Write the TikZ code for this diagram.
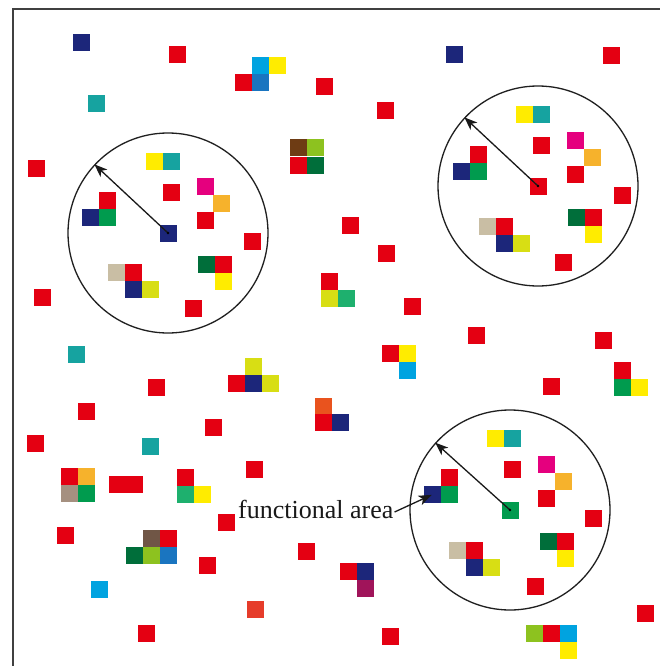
\documentclass[tikz,border=0pt]{standalone}
\usepackage{fontspec}
\setmainfont{Liberation Serif}
\usetikzlibrary{arrows.meta}
\definecolor{cR}{RGB}{228,0,18}
\definecolor{cN}{RGB}{28,38,122}
\definecolor{cT}{RGB}{22,163,160}
\definecolor{cLB}{RGB}{0,163,224}
\definecolor{cY}{RGB}{255,236,0}
\definecolor{cB}{RGB}{26,117,192}
\definecolor{cYG}{RGB}{216,222,20}
\definecolor{cG}{RGB}{0,155,78}
\definecolor{cDG}{RGB}{0,110,58}
\definecolor{cSG}{RGB}{30,176,110}
\definecolor{cM}{RGB}{229,0,126}
\definecolor{cO}{RGB}{246,178,44}
\definecolor{cBe}{RGB}{201,190,164}
\definecolor{cBr}{RGB}{110,60,20}
\definecolor{cBr2}{RGB}{112,86,70}
\definecolor{cL}{RGB}{141,194,31}
\definecolor{cTa}{RGB}{165,144,128}
\definecolor{cOR}{RGB}{233,83,30}
\definecolor{cOR2}{RGB}{230,60,42}
\definecolor{cMa}{RGB}{160,20,90}
\definecolor{cFrame}{RGB}{64,64,64}
\newcommand\sq[3]{\fill[#3] (#1,#2) rectangle ++(17,17);}
\begin{document}
\begin{tikzpicture}[x=1pt,y=-1pt,
  sqn/.style={rectangle,minimum size=17pt,inner sep=0pt,outer sep=0pt},
  area/.style={draw=black!88,circle,minimum size=200pt,inner sep=0pt,line width=1.3pt},
  arr/.style={draw=black!90,line width=1.3pt,-{Stealth[length=13pt,width=10pt,inset=3.5pt]}}]
\useasboundingbox (0,0) rectangle (660,666);
\fill[white] (0,0) rectangle (660,666);
% frame (top and left visible)
\draw[cFrame,line width=2pt] (12.7,666) -- (12.7,8.7) -- (660,8.7);
% free squares
\sq{73}{34}{cN}
\sq{169}{46}{cR}
\sq{252}{57}{cLB}\sq{269}{57}{cY}\sq{235}{74}{cR}\sq{252}{74}{cB}
\sq{316}{78}{cR}
\sq{88}{95}{cT}
\sq{28}{160}{cR}
% circle 1 contents
\sq{146}{153}{cY}\sq{163}{153}{cT}
\sq{163}{184}{cR}
\sq{197}{178}{cM}\sq{213}{195}{cO}\sq{197}{212}{cR}
\sq{99}{192}{cR}\sq{82}{209}{cN}\sq{99}{209}{cG}
\node[sqn,fill=cN] (k1) at (168,233) {};
\sq{244}{233}{cR}
\sq{198}{256}{cDG}\sq{215}{256}{cR}\sq{215}{273}{cY}
\sq{108}{264}{cBe}\sq{125}{264}{cR}\sq{125}{281}{cN}\sq{142}{281}{cYG}
\sq{185}{300}{cR}
\sq{34}{289}{cR}
\sq{290}{139}{cBr}\sq{307}{139}{cL}\sq{290}{157}{cR}\sq{307}{157}{cDG}
\sq{321}{273}{cR}\sq{321}{290}{cYG}\sq{338}{290}{cSG}
% upper right
\sq{446}{46}{cN}
\sq{603}{47}{cR}
\sq{377}{102}{cR}
% circle 2 contents
\sq{516}{106}{cY}\sq{533}{106}{cT}
\sq{533}{137}{cR}
\sq{567}{132}{cM}\sq{584}{149}{cO}\sq{567}{166}{cR}
\sq{470}{146}{cR}\sq{453}{163}{cN}\sq{470}{163}{cG}
\node[sqn,fill=cR] (k2) at (538,186) {};
\sq{614}{187}{cR}
\sq{568}{209}{cDG}\sq{585}{209}{cR}\sq{585}{226}{cY}
\sq{479}{218}{cBe}\sq{496}{218}{cR}\sq{496}{235}{cN}\sq{513}{235}{cYG}
\sq{555}{254}{cR}
\sq{342}{217}{cR}
\sq{378}{245}{cR}
\sq{404}{298}{cR}
\sq{468}{327}{cR}
\sq{595}{332}{cR}
% lower left
\sq{68}{346}{cT}
\sq{148}{379}{cR}
\sq{245}{358}{cYG}\sq{228}{375}{cR}\sq{245}{375}{cN}\sq{262}{375}{cYG}
\sq{315}{398}{cOR}\sq{315}{414}{cR}\sq{332}{414}{cN}
\sq{78}{403}{cR}
\sq{205}{419}{cR}
\sq{27}{435}{cR}
\sq{142}{438}{cT}
\sq{246}{461}{cR}
\sq{61}{468}{cR}\sq{78}{468}{cO}\sq{61}{485}{cTa}\sq{78}{485}{cG}
\sq{109}{476}{cR}\sq{126}{476}{cR}
\sq{177}{469}{cR}\sq{177}{486}{cSG}\sq{194}{486}{cY}
\sq{218}{514}{cR}
\sq{57}{527}{cR}
\sq{143}{530}{cBr2}\sq{160}{530}{cR}\sq{126}{547}{cDG}\sq{143}{547}{cL}\sq{160}{547}{cB}
\sq{298}{543}{cR}
\sq{199}{557}{cR}
\sq{91}{581}{cLB}
\sq{247}{601}{cOR2}
\sq{138}{625}{cR}
% lower right
\sq{382}{345}{cR}\sq{399}{345}{cY}\sq{399}{362}{cLB}
\sq{543}{378}{cR}
\sq{614}{362}{cR}\sq{614}{379}{cG}\sq{631}{379}{cY}
% circle 3 contents
\sq{487}{430}{cY}\sq{504}{430}{cT}
\sq{504}{461}{cR}
\sq{538}{456}{cM}\sq{555}{473}{cO}\sq{538}{490}{cR}
\sq{441}{469}{cR}\sq{441}{486}{cG}
\node[sqn,fill=cN] (n3) at (432.5,494.5) {};
\node[sqn,fill=cG] (k3) at (510,510) {};
\sq{585}{510}{cR}
\sq{540}{533}{cDG}\sq{557}{533}{cR}\sq{557}{550}{cY}
\sq{449}{542}{cBe}\sq{466}{542}{cR}\sq{466}{559}{cN}\sq{483}{559}{cYG}
\sq{527}{578}{cR}
\sq{340}{563}{cR}\sq{357}{563}{cN}\sq{357}{580}{cMa}
\sq{637}{605}{cR}
\sq{382}{628}{cR}
\sq{526}{625}{cL}\sq{543}{625}{cR}\sq{560}{625}{cLB}\sq{560}{642}{cY}
% functional areas
\node[area] (A1) at (168,233) {};
\node[area] (A2) at (538,186) {};
\node[area] (A3) at (510,510) {};
\draw[arr] (k1.center) -- (A1.137);
\draw[arr] (k2.center) -- (A2.137);
\draw[arr] (k3.center) -- (A3.138);
\fill[black] (k1.center) circle (1.3pt) (k2.center) circle (1.3pt) (k3.center) circle (1.3pt);
% label
\node[anchor=base west,inner sep=0pt,font=\fontsize{26}{30}\selectfont,text=black!90] (lab) at (238,518) {functional area};
\draw[arr,shorten >=1pt] ([xshift=1pt,yshift=6pt]lab.base east) -- (n3.center);
\end{tikzpicture}
\end{document}
